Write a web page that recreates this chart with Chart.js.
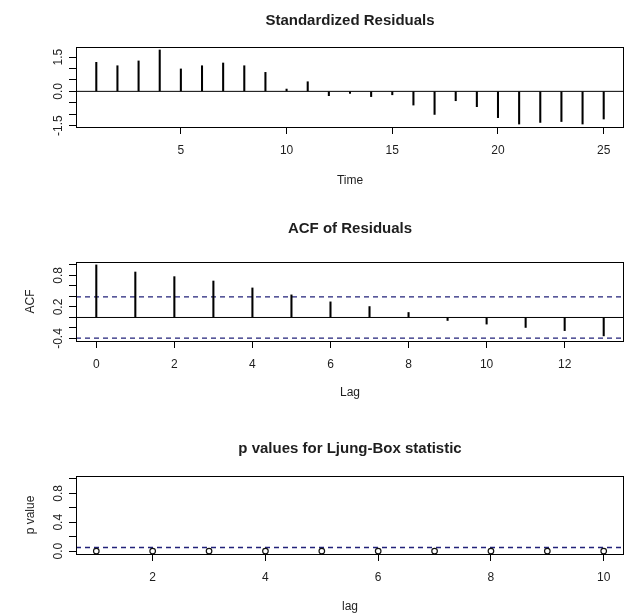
<!DOCTYPE html>
<html><head><meta charset="utf-8">
<script src="https://cdn.jsdelivr.net/npm/chart.js@4.4.1/dist/chart.umd.min.js"></script>
<style>
html,body{margin:0;padding:0;background:#fff;width:627px;height:615px;overflow:hidden}
.p{position:absolute;left:0;width:627px;height:205px}
canvas{display:block}
</style></head>
<body>
<div class="p" style="top:0"><canvas id="c1" width="627" height="205"></canvas></div>
<div class="p" style="top:205px"><canvas id="c2" width="627" height="205"></canvas></div>
<div class="p" style="top:410px"><canvas id="c3" width="627" height="205"></canvas></div>
<script>
// ---- data ----
const residTime = [1,2,3,4,5,6,7,8,9,10,11,12,13,14,15,16,17,18,19,20,21,22,23,24,25];
const residValues = [1.27,1.12,1.33,1.81,0.98,1.12,1.24,1.12,0.83,0.10,0.42,-0.19,-0.09,-0.23,-0.15,-0.60,-1.01,-0.41,-0.67,-1.15,-1.43,-1.36,-1.32,-1.43,-1.21];
const acfLags = [0,1,2,3,4,5,6,7,8,9,10,11,12,13];
const acfValues = [1.0,0.865,0.777,0.694,0.562,0.43,0.297,0.208,0.095,-0.057,-0.126,-0.19,-0.25,-0.35];
const acfCI = 0.392;
const lbLags = [1,2,3,4,5,6,7,8,9,10];
const lbPValues = [0,0,0,0,0,0,0,0,0,0];
const lbLevel = 0.05;

const residXTicks = [5,10,15,20,25];
const residYTicks = [-1.5,-1,-0.5,0,0.5,1,1.5];
const residYLabels = [-1.5,0,1.5];
const acfXTicks = [0,2,4,6,8,10,12];
const acfYTicks = [-0.4,-0.2,0,0.2,0.4,0.6,0.8,1.0];
const acfYLabels = [-0.4,0.2,0.8];
const lbXTicks = [2,4,6,8,10];
const lbYTicks = [0,0.2,0.4,0.6,0.8,1.0];
const lbYLabels = [0,0.4,0.8];

// ---- helpers ----
const FONT = '"Liberation Sans", Arial, Helvetica, sans-serif';
const TXT = '#1e1e1e';
const DASH = '#22227a';
function ext(lo, hi){ const d = (hi - lo) * 0.04; return [lo - d, hi + d]; }
function rng(a){ return [Math.min(...a), Math.max(...a)]; }

const rPlugin = {
  id: 'rstyle',
  afterDraw(chart, args, o) {
    const {ctx, chartArea: a, scales} = chart;
    ctx.save();
    ctx.strokeStyle = '#000';
    ctx.lineWidth = 1;
    ctx.strokeRect(a.left + 0.5, a.top + 0.5, a.right - a.left - 1, a.bottom - a.top);
    ctx.fillStyle = TXT;
    ctx.font = 'bold 15px ' + FONT;
    ctx.textAlign = 'center';
    ctx.textBaseline = 'middle';
    ctx.fillText(o.title, (a.left + a.right) / 2, o.titleY);
    ctx.font = '12px ' + FONT;
    ctx.textBaseline = 'alphabetic';
    for (const v of o.yLabels) {
      const y = scales.y.getPixelForValue(v);
      ctx.save();
      ctx.translate(62, y);
      ctx.rotate(-Math.PI / 2);
      ctx.fillText(v.toFixed(1), 0, 0);
      ctx.restore();
    }
    ctx.restore();
  }
};

function panel(id, c) {
  const H = 205;
  const tickFont = {family: FONT, size: 12};
  return new Chart(document.getElementById(id), {
    type: 'scatter',
    data: {datasets: c.datasets},
    plugins: [rPlugin],
    options: {
      responsive: false, animation: false, devicePixelRatio: 1,
      events: [],
      layout: {autoPadding: false, padding: {top: c.boxTop, left: 0, right: 3, bottom: 0}},
      plugins: {
        legend: {display: false}, tooltip: {enabled: false}, title: {display: false},
        rstyle: {title: c.title, titleY: c.titleY, yLabels: c.yLabels}
      },
      scales: {
        x: {
          type: 'linear', min: c.xlim[0], max: c.xlim[1], offset: false,
          afterBuildTicks: s => { s.ticks = c.xTicks.map(v => ({value: v})); },
          afterFit: s => { s.height = H - c.boxBottom; },
          grid: {drawOnChartArea: false, drawTicks: true, tickLength: 7, color: '#000', lineWidth: 1, offset: false},
          border: {display: false},
          ticks: {font: tickFont, color: TXT, padding: c.xTickPad, maxRotation: 0, minRotation: 0, autoSkip: false,
                  callback: v => String(v)},
          title: {display: true, text: c.xTitle, font: tickFont, color: TXT,
                  padding: {top: 0, bottom: H - 7.2 - c.xTitleY}}
        },
        y: {
          type: 'linear', min: c.ylim[0], max: c.ylim[1],
          afterBuildTicks: s => { s.ticks = c.yTicks.map(v => ({value: v})); },
          afterFit: s => { s.width = 76; },
          grid: {drawOnChartArea: false, drawTicks: true, tickLength: 7, color: '#000', lineWidth: 1},
          border: {display: false},
          ticks: {display: false},
          title: {display: !!c.yTitle, text: c.yTitle || '', font: tickFont, color: TXT,
                  padding: {top: 23.8, bottom: 0}}
        }
      }
    }
  });
}

function hline(xlim, y, color, dash, w) {
  return {type: 'line', data: [{x: xlim[0], y: y}, {x: xlim[1], y: y}],
          borderColor: color, borderWidth: w || 1, borderDash: dash || [], pointRadius: 0, order: 2};
}
function spikes(xs, ys) {
  return {type: 'bar', data: xs.map((x, i) => ({x: x, y: ys[i]})),
          backgroundColor: '#000', borderWidth: 0, barThickness: 1.4, order: 1};
}

// Panel 1: standardized residuals
const x1 = ext(...rng(residTime));
const y1 = ext(...rng(residValues));
panel('c1', {
  boxTop: 47, boxBottom: 127, titleY: 21, title: 'Standardized Residuals',
  xTitle: 'Time', xTitleY: 181, xTickPad: 9.5,
  xlim: x1, ylim: y1, xTicks: residXTicks, yTicks: residYTicks, yLabels: residYLabels,
  datasets: [spikes(residTime, residValues), hline(x1, 0, '#000')]
});

// Panel 2: ACF of residuals
const x2 = ext(...rng(acfLags));
const y2 = ext(...rng(acfValues.concat([-acfCI, acfCI])));
panel('c2', {
  boxTop: 57, boxBottom: 136, titleY: 23.5, title: 'ACF of Residuals',
  xTitle: 'Lag', xTitleY: 188, xTickPad: 9.5, yTitle: 'ACF',
  xlim: x2, ylim: y2, xTicks: acfXTicks, yTicks: acfYTicks, yLabels: acfYLabels,
  datasets: [spikes(acfLags, acfValues), hline(x2, 0, '#000'),
             hline(x2, acfCI, DASH, [5, 4], 1.3), hline(x2, -acfCI, DASH, [5, 4], 1.3)]
});

// Panel 3: Ljung-Box p values
const x3 = ext(...rng(lbLags));
const y3 = ext(0, 1);
panel('c3', {
  boxTop: 66, boxBottom: 144, titleY: 38.5, title: 'p values for Ljung-Box statistic',
  xTitle: 'lag', xTitleY: 196.5, xTickPad: 9.5, yTitle: 'p value',
  xlim: x3, ylim: y3, xTicks: lbXTicks, yTicks: lbYTicks, yLabels: lbYLabels,
  datasets: [
    {type: 'scatter', data: lbLags.map((x, i) => ({x: x, y: lbPValues[i]})),
     pointRadius: 2.8, pointStyle: 'circle', backgroundColor: 'rgba(255,255,255,0)',
     borderColor: '#111', borderWidth: 1.2, showLine: false, order: 1},
    hline(x3, lbLevel, DASH, [5, 4], 1.3)
  ]
});
</script>
</body></html>
